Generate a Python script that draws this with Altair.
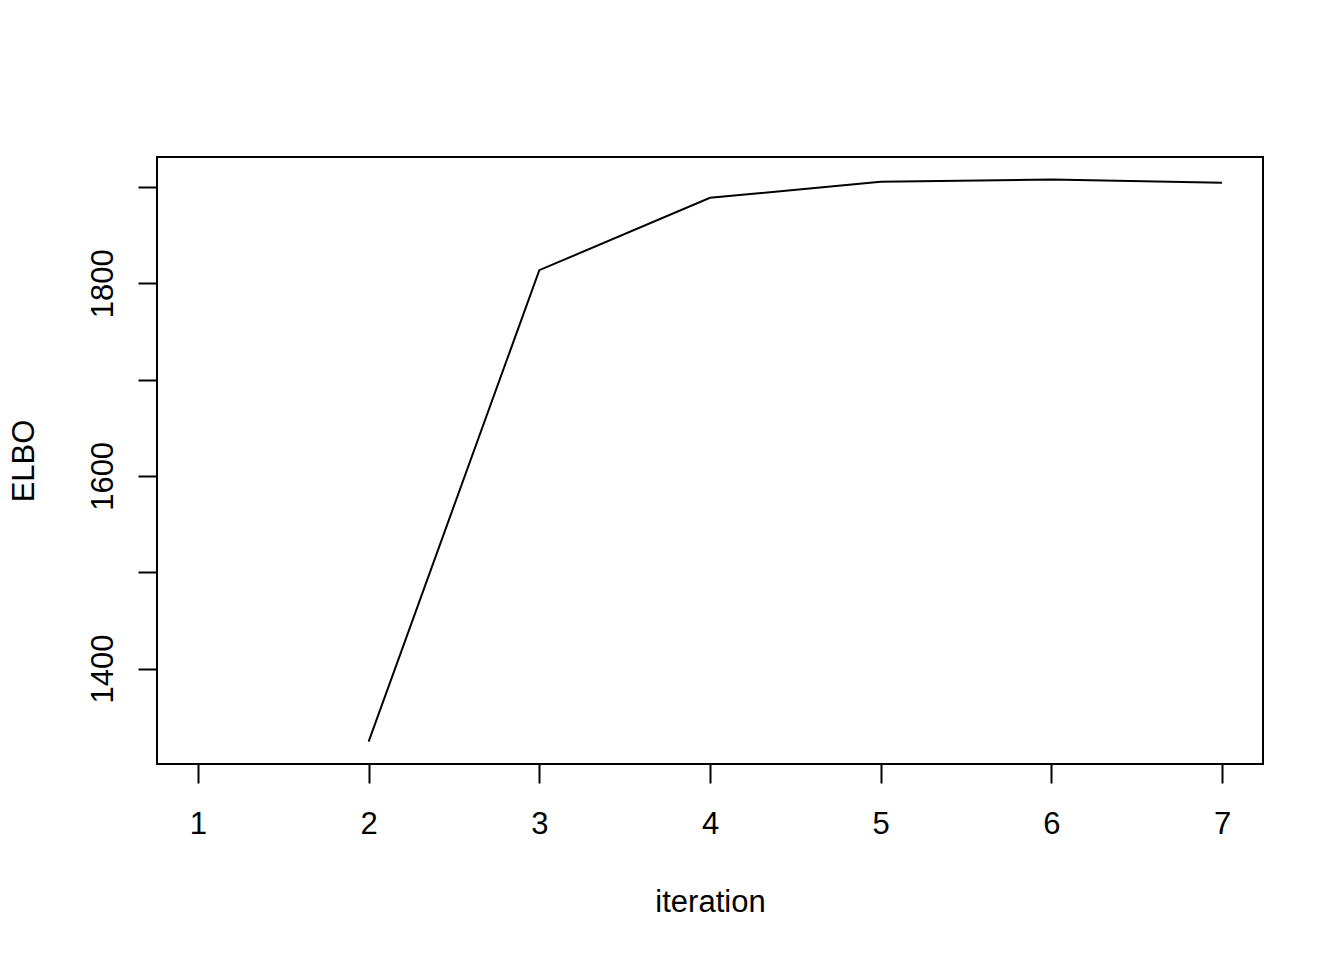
import altair as alt
import pandas as pd

iteration = [2, 3, 4, 5, 6, 7]
elbo = [1324.2, 1813.5, 1888.6, 1905.2, 1907.7, 1904.2]
x_ticks = [1, 2, 3, 4, 5, 6, 7]
y_ticks = [1400, 1500, 1600, 1700, 1800, 1900]

df = pd.DataFrame({"iteration": iteration, "ELBO": elbo})

FONT = "Liberation Sans"
FS = 31

chart = alt.Chart(df).mark_line(color="black", strokeWidth=2, clip=True).encode(
    x=alt.X(
        "iteration:Q",
        scale=alt.Scale(domain=[0.76, 7.24], nice=False, zero=False),
        axis=alt.Axis(
            values=x_ticks, format="d", grid=False, domain=False,
            tickSize=19, tickWidth=2, tickColor="black",
            labelPadding=26, labelFontSize=FS, labelFont=FONT, labelColor="black",
            labelBaseline="top", labelAlign="center",
            title="iteration", titleFont=FONT, titleFontSize=FS, titleFontWeight="normal",
            titleColor="black", titleBaseline="alphabetic", titleAlign="center",
            titleX=553, titleY=147, labelOverlap=False,
        ),
    ),
    y=alt.Y(
        "ELBO:Q",
        scale=alt.Scale(domain=[1300.9, 1931.0], nice=False, zero=False),
        axis=alt.Axis(
            values=y_ticks, format="d", grid=False, domain=False,
            tickSize=19, tickWidth=2, tickColor="black",
            labelPadding=26, labelFontSize=FS, labelFont=FONT, labelColor="black",
            labelAngle=270, labelAlign="center", labelBaseline="alphabetic",
            labelExpr="datum.value % 200 == 0 ? datum.label : ''",
            labelOverlap=False,
            title="ELBO", titleFont=FONT, titleFontSize=FS, titleFontWeight="normal",
            titleColor="black", titleAngle=270, titleBaseline="alphabetic", titleAlign="center",
            titleX=-123.5, titleY=303.5,
        ),
    ),
).properties(
    width=1106, height=607,
    autosize=alt.AutoSizeParams(type="none"),
    padding={"left": 149, "top": 149, "right": 73, "bottom": 180},
    background="white",
).configure_view(
    stroke="black", strokeWidth=2, fill="white"
)

chart.save("out.html", embed_options={"renderer": "svg", "actions": False})
